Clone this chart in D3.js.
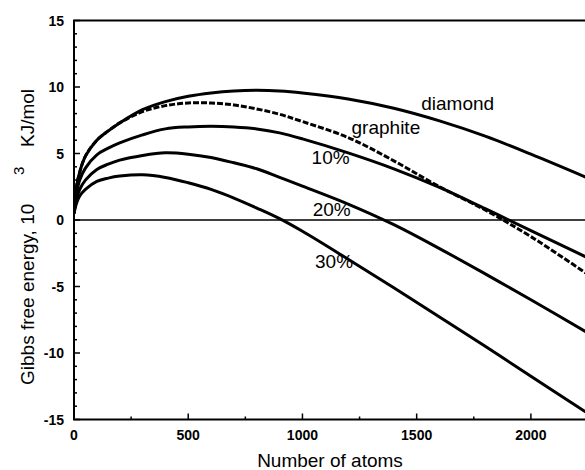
<!DOCTYPE html>
<html>
<head>
<meta charset="utf-8">
<script src="https://cdn.jsdelivr.net/npm/d3@7"></script>
<style>
  body { margin: 0; background: #fff; }
  svg { display: block; }
  text { font-family: Arial, "Liberation Sans", sans-serif; fill: #000; }
</style>
</head>
<body>
<svg id="chart" width="585" height="470"></svg>
<script>
// atoms (x) and Gibbs free energy (10^3 KJ/mol)
const atoms = [0, 10, 25, 50, 100, 150, 200, 300, 400, 500, 600, 700, 800, 900, 1000, 1200, 1400, 1600, 1800, 2000, 2250];
const diamond = [0.5, 2.4, 3.6, 4.8, 6.0, 6.7, 7.3, 8.3, 8.9, 9.3, 9.55, 9.7, 9.75, 9.7, 9.55, 9.1, 8.4, 7.45, 6.3, 4.95, 3.15];
const graphite = [0.5, 2.4, 3.6, 4.8, 6.0, 6.7, 7.3, 8.15, 8.6, 8.8, 8.8, 8.65, 8.35, 7.95, 7.4, 6.2, 4.45, 2.5, 0.75, -1.25, -4.1];
const pct10 = [0.5, 1.9, 3.0, 3.9, 4.9, 5.4, 5.8, 6.4, 6.85, 7.0, 7.05, 7.0, 6.85, 6.55, 6.1, 5.05, 3.85, 2.45, 0.85, -0.8, -2.85];
const pct20 = [0.5, 1.5, 2.3, 3.0, 3.8, 4.2, 4.5, 4.85, 5.05, 4.95, 4.7, 4.3, 3.85, 3.2, 2.55, 1.2, -0.35, -2.15, -4.05, -6.0, -8.5];
const pct30 = [0.5, 1.2, 1.8, 2.3, 2.9, 3.15, 3.3, 3.4, 3.2, 2.8, 2.3, 1.65, 0.9, 0.1, -0.85, -2.95, -5.1, -7.3, -9.5, -11.75, -14.55];

const xTicks = [0, 500, 1000, 1500, 2000];
const yTicks = [-15, -10, -5, 0, 5, 10, 15];

const svg = d3.select("#chart");

const x = d3.scaleLinear().domain([0, 2250]).range([74, 588]);
const y = d3.scaleLinear().domain([-15, 15]).range([419.5, 20.5]);

svg.append("defs").append("clipPath").attr("id", "plot")
  .append("rect").attr("x", 73).attr("y", 18).attr("width", 512).attr("height", 404);

// minor + major ticks, pointing inward
const yMinor = d3.range(-15, 16, 1);
svg.selectAll(".ytick").data(yMinor).enter().append("line")
  .attr("x1", 74).attr("x2", (d) => (d % 5 === 0 ? 80 : 77))
  .attr("y1", (d) => y(d)).attr("y2", (d) => y(d))
  .attr("stroke", "#000").attr("stroke-width", 1.5);

const xMinor = d3.range(0, 2251, 250);
svg.selectAll(".xtick").data(xMinor).enter().append("line")
  .attr("x1", (d) => x(d)).attr("x2", (d) => x(d))
  .attr("y1", y(-15)).attr("y2", (d) => (d % 500 === 0 ? y(-15) - 6 : y(-15) - 3))
  .attr("stroke", "#000").attr("stroke-width", 1.5);

// frame: left, bottom, top
svg.append("line").attr("x1", 74).attr("x2", 74).attr("y1", y(15)).attr("y2", y(-15))
  .attr("stroke", "#000").attr("stroke-width", 2);
svg.append("line").attr("x1", 73).attr("x2", 585).attr("y1", y(-15)).attr("y2", y(-15))
  .attr("stroke", "#000").attr("stroke-width", 2);
svg.append("line").attr("x1", 73).attr("x2", 585).attr("y1", y(15)).attr("y2", y(15))
  .attr("stroke", "#000").attr("stroke-width", 2);

// zero line
svg.append("line").attr("x1", 74).attr("x2", 585).attr("y1", y(0)).attr("y2", y(0))
  .attr("stroke", "#000").attr("stroke-width", 1.5);

// tick labels
svg.selectAll(".ylab").data(yTicks).enter().append("text")
  .attr("x", 64).attr("y", (d) => y(d) + 5)
  .attr("text-anchor", "end")
  .style("font-size", "14px").style("font-weight", "bold")
  .text((d) => d);

svg.selectAll(".xlab").data(xTicks).enter().append("text")
  .attr("x", (d) => x(d)).attr("y", 440)
  .attr("text-anchor", "middle")
  .style("font-size", "14px").style("font-weight", "bold")
  .text((d) => d);

// axis titles
svg.append("text").attr("x", 330).attr("y", 467)
  .attr("text-anchor", "middle").style("font-size", "19px")
  .text("Number of atoms");

// rotated title; local x runs upward from y=385
const ylab = svg.append("text")
  .attr("transform", "translate(34,385) rotate(-90)")
  .style("font-size", "19px");
ylab.append("tspan").attr("x", 0).text("Gibbs free energy, 10");
ylab.append("tspan").attr("x", 210).attr("dy", -10).style("font-size", "15px").text("3");
ylab.append("tspan").attr("x", 238).attr("dy", 10).text("KJ/mol");

// curves
const series = [
  { name: "diamond", values: diamond, dash: null },
  { name: "graphite", values: graphite, dash: "6,2" },
  { name: "10%", values: pct10, dash: null },
  { name: "20%", values: pct20, dash: null },
  { name: "30%", values: pct30, dash: null },
];

const line = d3.line()
  .x((d) => x(d[0]))
  .y((d) => y(d[1]))
  .curve(d3.curveCatmullRom.alpha(0.5));

const g = svg.append("g").attr("clip-path", "url(#plot)");
g.selectAll(".curve").data(series).enter().append("path")
  .attr("d", (s) => line(atoms.map((a, i) => [a, s.values[i]])))
  .attr("fill", "none")
  .attr("stroke", "#000")
  .attr("stroke-width", 3)
  .attr("stroke-dasharray", (s) => s.dash);

// curve labels
const labels = [
  { text: "diamond", x: 1520, y: 8.3 },
  { text: "graphite", x: 1215, y: 6.5 },
  { text: "10%", x: 1040, y: 4.2 },
  { text: "20%", x: 1045, y: 0.3 },
  { text: "30%", x: 1055, y: -3.6 },
];
svg.selectAll(".lab").data(labels).enter().append("text")
  .attr("x", (d) => x(d.x)).attr("y", (d) => y(d.y))
  .style("font-size", "19px")
  .text((d) => d.text);
</script>
</body>
</html>
